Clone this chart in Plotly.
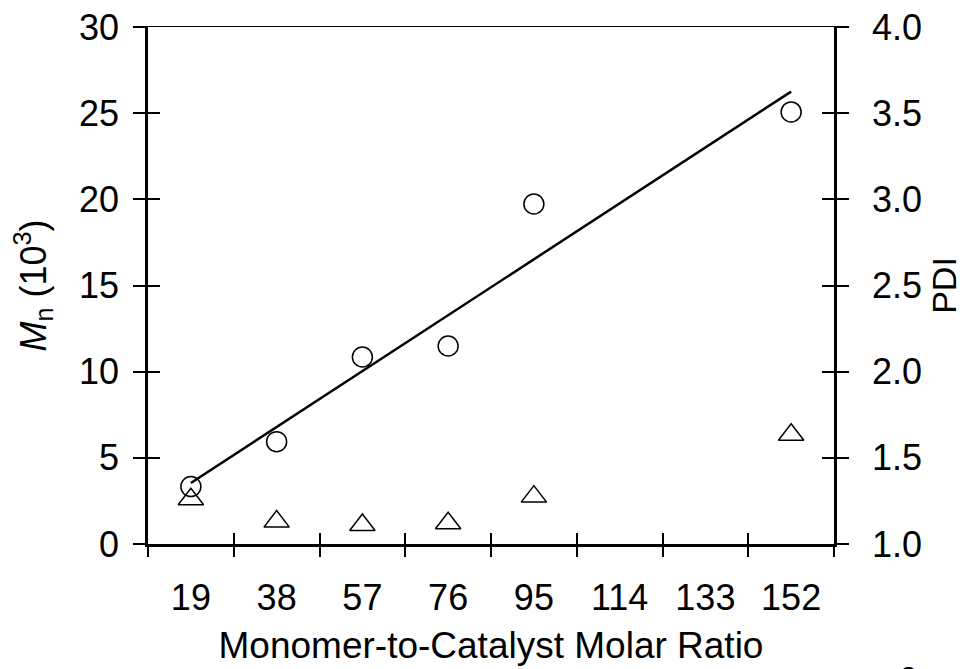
import numpy as np
import plotly.graph_objects as go

# ---- data ----
ratio_ticks = [19, 38, 57, 76, 95, 114, 133, 152]
ratio = [19, 38, 57, 76, 95, 152]
mn_k = [3.33, 5.94, 10.85, 11.49, 19.73, 25.07]
pdi = [1.26, 1.13, 1.11, 1.12, 1.275, 1.634]

FONT = "Liberation Sans, Arial, sans-serif"

# linear least-squares fit of Mn vs ratio
slope, intercept = np.polyfit(ratio, mn_k, 1)
fit_x = [ratio[0], ratio[-1]]
fit_y = [slope * v + intercept for v in fit_x]

step = ratio_ticks[1] - ratio_ticks[0]
xr = [ratio_ticks[0] - step / 2, ratio_ticks[-1] + step / 2]
bounds = [v - step / 2 for v in ratio_ticks] + [ratio_ticks[-1] + step / 2]

fig = go.Figure()
fig.add_trace(go.Scatter(x=fit_x, y=fit_y, mode="lines",
                         line=dict(color="black", width=2.5),
                         xaxis="x", yaxis="y", showlegend=False))
fig.add_trace(go.Scatter(x=ratio, y=mn_k, mode="markers",
                         marker=dict(symbol="circle-open", size=20, color="black",
                                     line=dict(width=1.5, color="black")),
                         xaxis="x", yaxis="y", showlegend=False))
fig.add_trace(go.Scatter(x=ratio, y=pdi, mode="markers",
                         marker=dict(symbol="triangle-up-open", size=22, color="black",
                                     line=dict(width=1.5, color="black")),
                         xaxis="x", yaxis="y2", showlegend=False))
# empty traces so that the overlay (tick) axes are drawn
for xa, ya in [("x2", "y"), ("x3", "y"), ("x", "y3"), ("x", "y4")]:
    fig.add_trace(go.Scatter(x=[None], y=[None], mode="markers", xaxis=xa, yaxis=ya,
                             showlegend=False, hoverinfo="skip"))

tickfont = dict(family=FONT, size=36, color="black")
common = dict(showgrid=False, zeroline=False, automargin=False)

fig.update_layout(
    width=963, height=669,
    margin=dict(l=148, r=129, t=27, b=125, autoexpand=False),
    paper_bgcolor="white", plot_bgcolor="white",
    font=dict(family=FONT, color="black"),
    xaxis=dict(range=xr, tickvals=ratio_ticks, ticktext=[str(v) for v in ratio_ticks],
               ticks="", showline=True, linecolor="black", linewidth=2.5,
               tickfont=tickfont, ticklabelstandoff=20,
               title=dict(text="Monomer-to-Catalyst Molar Ratio",
                          font=dict(family=FONT, size=37), standoff=16), **common),
    xaxis2=dict(overlaying="x", anchor="y", range=xr, tickvals=bounds, ticks="outside",
                ticklen=12, tickwidth=2, tickcolor="black", showticklabels=False,
                showline=False, **common),
    xaxis3=dict(overlaying="x", anchor="y", range=xr, tickvals=bounds, ticks="inside",
                ticklen=11, tickwidth=2, tickcolor="black", showticklabels=False,
                showline=True, mirror=True, linecolor="black", linewidth=1.2, **common),
    yaxis=dict(range=[0, 30], dtick=5, ticks="outside", ticklen=12, tickwidth=2,
               tickcolor="black", showline=True, linecolor="black", linewidth=2.5,
               tickfont=tickfont, ticklabelstandoff=7,
               title=dict(text="<i>M</i><sub>n</sub> (10<sup>3</sup>)",
                          font=dict(family=FONT, size=36), standoff=22), **common),
    yaxis3=dict(overlaying="y", anchor="x", range=[0, 30], dtick=5, ticks="inside",
                ticklen=12, tickwidth=2, tickcolor="black", showticklabels=False,
                showline=False, **common),
    yaxis2=dict(overlaying="y", anchor="x", side="right", range=[1, 4], dtick=0.5,
                tickformat=".1f", ticks="outside", ticklen=12, tickwidth=2,
                tickcolor="black", showline=True, linecolor="black", linewidth=2.5,
                tickfont=tickfont, ticklabelstandoff=16,
                title=dict(text="PDI", font=dict(family=FONT, size=34), standoff=16),
                **common),
    yaxis4=dict(overlaying="y", anchor="x", side="right", range=[1, 4], dtick=0.5,
                ticks="inside", ticklen=12, tickwidth=2, tickcolor="black",
                showticklabels=False, showline=False, **common),
    annotations=[dict(text="2", xref="paper", yref="paper", x=(908 - 148) / 686, y=0,
                      xanchor="center", yanchor="top", yshift=-114, showarrow=False,
                      font=dict(family=FONT, size=30, color="black"))],
)

fig.write_html("out.html")
